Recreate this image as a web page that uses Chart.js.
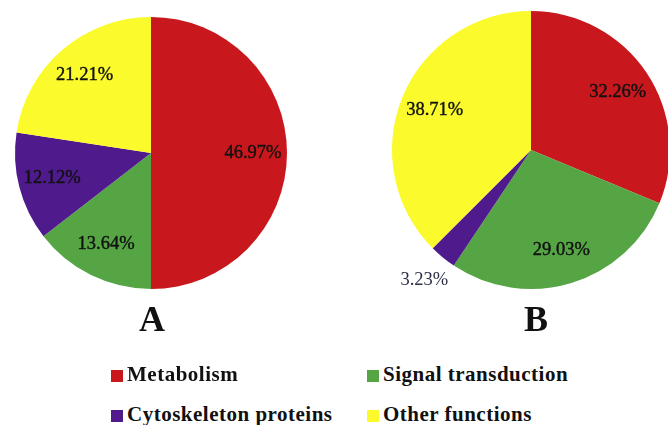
<!DOCTYPE html>
<html>
<head>
<meta charset="utf-8">
<script src="https://cdn.jsdelivr.net/npm/chart.js@4.4.0/dist/chart.umd.min.js"></script>
<style>
  html, body { margin: 0; padding: 0; background: #fff; overflow: hidden; }
  #page { position: relative; width: 668px; height: 425px; overflow: hidden; }
  .pie { position: absolute; top: 0; }
  .tag {
    position: absolute; top: 298px; width: 60px; text-align: center;
    font: bold 36px "Liberation Serif", "Times New Roman", serif; color: #111;
  }
  .legend-item {
    position: absolute; white-space: nowrap;
    font: bold 21px "Liberation Serif", "Times New Roman", serif; color: #111;
    letter-spacing: 0.5px;
  }
  .legend-item span.box {
    display: inline-block; width: 12px; height: 12px; margin-right: 4px;
    vertical-align: -1px;
  }
</style>
</head>
<body>
<div id="page">
  <canvas id="pieA" class="pie" width="302" height="300" style="left:0px"></canvas>
  <canvas id="pieB" class="pie" width="338" height="300" style="left:362px"></canvas>
  <div class="tag" style="left:122px">A</div>
  <div class="tag" style="left:506px">B</div>
  <div id="legend"></div>
</div>
<script>
// categorias e valores (%) de cada grupo
var categorias = ['Metabolism', 'Signal transduction', 'Cytoskeleton proteins', 'Other functions'];
var valoresA = [46.97, 13.64, 12.12, 21.21];
var valoresB = [32.26, 29.03, 3.23, 38.71];
var cores = ['#c9181d', '#55a545', '#4f1a8c', '#fafa2c'];

// plugin que escreve o rótulo de percentagem em cada fatia
var rotulosFatias = {
    id: 'rotulosFatias',
    afterDatasetsDraw(chart) {
        var ctx = chart.ctx;
        var meta = chart.getDatasetMeta(0);
        var dados = chart.data.datasets[0].data;
        var total = dados.reduce((a, b) => a + b, 0);
        ctx.save();
        ctx.font = '18.5px "Liberation Serif", "Times New Roman", serif';
        ctx.textAlign = 'center';
        ctx.textBaseline = 'middle';
        meta.data.forEach((arc, i) => {
            var p = arc.getProps(['x', 'y', 'startAngle', 'endAngle', 'outerRadius'], true);
            var meio = (p.startAngle + p.endAngle) / 2;
            // fatias muito pequenas ficam com o rótulo do lado de fora
            var fator = dados[i] / total < 0.05 ? 1.21 : 0.75;
            var x = p.x + Math.cos(meio) * p.outerRadius * fator;
            var y = p.y + Math.sin(meio) * p.outerRadius * fator;
            var texto = dados[i].toFixed(2) + '%';
            if (fator > 1) {
                ctx.lineWidth = 3;
                ctx.strokeStyle = '#fff';
                ctx.strokeText(texto, x, y);
                ctx.fillStyle = '#2a2f45';
            } else {
                ctx.fillStyle = '#111';
                // traço fino para o texto ficar mais cheio
                ctx.lineWidth = 0.4;
                ctx.strokeStyle = '#111';
                ctx.strokeText(texto, x, y);
            }
            ctx.fillText(texto, x, y);
        });
        ctx.restore();
    }
};

function criarPizza(id, valores, padding) {
    return new Chart(document.getElementById(id), {
        type: 'pie',
        data: {
            labels: categorias,
            datasets: [{
                data: valores,
                backgroundColor: cores,
                borderWidth: 0,
                hoverOffset: 0
            }]
        },
        options: {
            responsive: false,
            animation: false,
            layout: { padding: padding },
            plugins: {
                legend: { display: false },
                tooltip: { enabled: false }
            }
        },
        plugins: [rotulosFatias]
    });
}

var pizzaA = criarPizza('pieA', valoresA, { left: 15, right: 15, top: 17, bottom: 11 });
var pizzaB = criarPizza('pieB', valoresB, { left: 30, right: 30, top: 11, bottom: 11 });

// legenda em duas colunas
var legenda = document.getElementById('legend');
var posLegenda = [[111, 362], [367, 362], [111, 402], [367, 402]];
categorias.forEach((nome, i) => {
    var item = document.createElement('div');
    item.className = 'legend-item';
    item.style.left = posLegenda[i][0] + 'px';
    item.style.top = posLegenda[i][1] + 'px';
    item.innerHTML = '<span class="box" style="background:' + cores[i] + '"></span>' + nome;
    legenda.appendChild(item);
});
</script>
</body>
</html>
